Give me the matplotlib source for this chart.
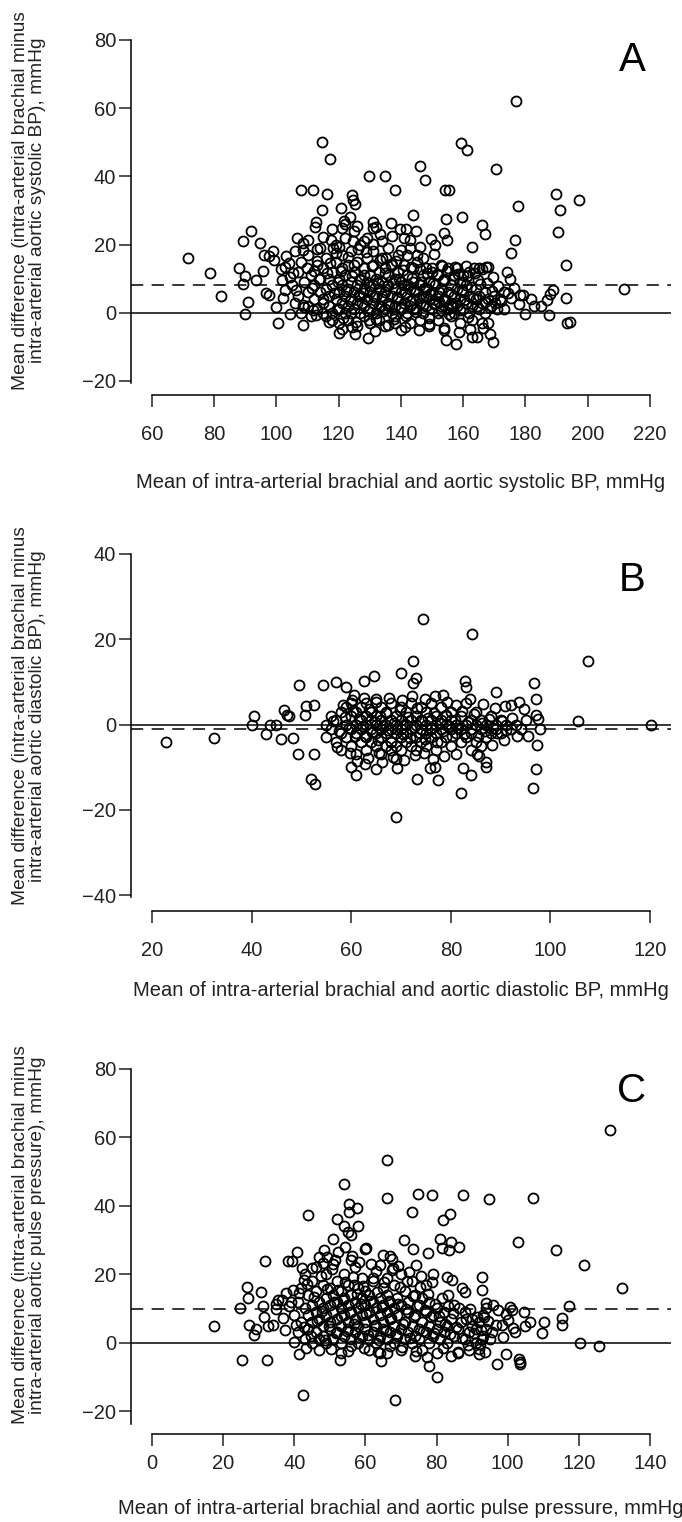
import matplotlib
matplotlib.use("Agg")
import matplotlib.pyplot as plt
import numpy as np

plt.rcParams['font.family'] = ['Liberation Sans', 'DejaVu Sans']

# ---- Panel A: systolic BP (mean, difference) ----
sys_outer_x = [71.7, 78.5, 82.3, 88, 89.4, 91.9, 90, 89.4, 90.8, 90, 94.7, 93.5, 95.6, 96, 98.8, 97.7,
               96.6, 97.7, 100, 100.5, 101.7, 102.8, 102.8, 104, 104.5, 105.3, 105.9, 106.6, 107.9, 108.7,
               108.7, 108.8, 111.8, 112.3, 112.7, 113, 113.2, 114.8, 114.8, 115, 116.2, 117.3, 117.6, 118.1,
               120.6, 121.2, 121.7, 123.7, 124.4, 124.7, 125.1, 120, 124.3, 129.3, 129.9, 135, 131, 138.1,
               136.7, 139.8, 141.7, 143.9, 142.8, 146, 147.7, 146.3, 149.7, 150.5, 154.2, 155.6, 154.4,
               153.7, 154.7, 159.3, 161.3, 159.5, 162.9, 166, 166.9, 170.5, 167.3, 168, 169.6, 154.4, 157.7,
               162.9, 164.6, 168.5, 169.6, 177, 177.5, 176.8, 175.5, 175.2, 174, 173.3, 178.3, 178, 180,
               181.9, 182.7, 185, 187.6, 187, 187.8, 189, 190, 191, 190.6, 193.1, 193.1, 193.5, 194.2,
               197.4, 211.7]
sys_outer_y = [16.0, 11.8, 5.0, 13.1, 21, 24.1, 10.7, 8.5, 3.1, -0.3, 20.5, 9.7, 12.1, 17, 18, 16.5,
               5.9, 5.2, 1.7, -3.0, 9.7, 6.7, 13.4, 14.6, -0.3, 11.7, 18.1, 22, 36, 20.5,
               -3.7, 1.7, 36, 25.1, 26.6, 18.8, 15.3, 30, 50, 22.2, 34.9, 45, 21.2, 19,
               30.8, 24.8, 27, 28.2, 34.6, 33.1, 32, -5.9, -4.2, -7.3, 40, 40, 26.6, 36,
               26.3, 24.6, 24.6, 28.7, 21.2, 43, 38.8, 19.2, 21.6, 17.1, 36, 36, 27.5,
               23.4, 21.4, 49.8, 47.6, 28, 19.2, 25.8, 23.1, 42, 13.4, 13.4, 10.4, -8.1, -9.1,
               -7.1, -7.1, -6.2, -8.6, 62, 31.4, 21.2, 17.6, 10, 12, 1.2, 5.1, 2.6, -0.3,
               4.1, 2.1, 2.1, -0.8, 3.6, 5.4, 6.7, 34.8, 30, 23.7, 13.9, 4.3, -3, -2.6,
               33, 6.9]
sys_core_x = [105, 106, 107, 107, 108, 108, 109, 110, 110, 110, 111, 111, 112, 112, 113, 113, 114, 114, 114,
              115, 115, 115, 116, 116, 116, 117, 117, 117, 118, 118, 118, 118, 119, 119, 119, 120, 120, 120,
              120, 121, 121, 121, 121, 122, 122, 122, 122, 123, 123, 123, 123, 124, 124, 124, 124, 125, 125,
              125, 125, 126, 126, 126, 126, 127, 127, 127, 127, 128, 128, 128, 128, 129, 129, 129, 129, 130,
              130, 130, 130, 131, 131, 131, 131, 132, 132, 132, 132, 133, 133, 133, 133, 134, 134, 134, 134,
              135, 135, 135, 135, 136, 136, 136, 136, 137, 137, 137, 138, 138, 138, 138, 139, 139, 139, 140,
              140, 140, 140, 141, 141, 141, 141, 142, 142, 142, 143, 143, 143, 143, 144, 144, 144, 145, 145,
              145, 146, 146, 146, 147, 147, 147, 147, 148, 148, 148, 149, 149, 149, 150, 150, 150, 151, 151,
              151, 152, 152, 152, 152, 153, 153, 153, 154, 154, 154, 155, 155, 155, 156, 156, 156, 157, 157,
              157, 158, 158, 158, 159, 159, 159, 160, 160, 160, 161, 161, 162, 162, 162, 163, 163, 164, 164,
              165, 165, 165, 166, 166, 167, 167, 168, 168, 169, 170, 171, 172, 173]
sys_core_y = [8, 3, 12, 5, 0, 15, 9, 6, 2, 17, 11, -1, 4, 8, 14, 1, 6, 10, 19,
              3, 0, 13, 7, 16, -1, 2, 10, 5, 12, 0, 8, -2, 15, 4, 20, 6, 1, 10,
              -3, 13, 3, 8, 17, 0, 5, 11, 22, 7, 2, 14, -2, 9, 4, 18, 0, 12, 6,
              1, 24, 3, 8, 15, -4, 10, 5, 0, 20, 7, 13, 2, -1, 4, 9, 16, 22, 1,
              6, 11, -3, 8, 14, 3, 18, 0, 5, 10, 25, 7, 12, 2, -2, 4, 9, 16, 21,
              1, 6, 13, -4, 3, 8, 11, 19, 0, 5, 14, 2, 7, 10, -1, 4, 12, 17, 1,
              6, 9, -5, 3, 8, 14, 22, 0, 5, 11, 2, 7, 19, -3, 4, 9, 13, 1, 6,
              24, 3, 8, -2, 0, 5, 11, 16, 2, 7, 13, 4, 9, -4, 1, 6, 12, 3, 8,
              20, 0, 5, 11, -2, 2, 7, 14, 4, 10, -5, 1, 6, 13, 3, 8, -1, 0, 5,
              11, 2, 7, 13, 4, 9, -3, 1, 6, 11, 3, 8, 0, 5, 12, 2, -2, 4, 7,
              1, 5, 13, 3, -3, 0, 6, 4, -3, 2, 5, 1, 4, 6]
sys_fill_x = [104.5, 106.2, 108.4, 109.7, 111.3, 112.8, 113.6, 114.9, 116.3, 117.1, 118.6, 119.4, 119.8,
              120.7, 121.5, 122.3, 122.9, 123.6, 124.2, 124.8, 125.7, 126.4, 126.9, 127.5, 128.3, 128.8,
              129.4, 130.2, 130.7, 131.4, 131.9, 132.6, 133.2, 133.8, 134.4, 134.9, 135.6, 136.3, 136.8,
              137.5, 138.1, 138.7, 139.3, 139.9, 140.6, 141.2, 141.8, 142.4, 142.9, 143.5, 144.1, 144.8,
              145.3, 145.9, 146.6, 147.2, 147.8, 148.4, 148.9, 149.5, 150.3, 150.8, 151.6, 152.3, 152.8,
              153.5, 154.3, 154.9, 155.6, 156.2, 156.9, 157.7, 158.3, 158.9, 159.6, 160.4, 161.1, 161.7,
              162.4, 163.2, 163.9, 164.5, 165.4, 166.2, 167.1, 167.8, 168.6, 169.4, 170.2, 171.3, 172.1,
              174.3, 175.4, 176.5, 179.2, 157.3, 160.8, 163.5, 153.2, 150.1, 146.3, 143.3, 126.1, 128.1,
              130.9, 133.4, 137.2, 140.2, 142.1, 145.1, 120.2, 117.9, 124.6, 121.9, 125.9, 131.2, 135.3,
              138.4, 119.1, 110.1, 112.1, 108.6, 103.1, 101.5, 99.2, 102.1, 111.7, 116.9, 121.2, 125.3,
              131.6, 135.8, 141.4, 145.7, 149.2, 153.9, 158.6, 162.2, 166.4, 129.8, 137.9, 133.6, 127.7,
              143.9, 148.1, 152.1, 156.5, 160.1, 164.8]
sys_fill_y = [10.5, 6.8, 2.3, 13.2, 7.4, -0.6, 9.8, 4.1, 11.6, 14.7, 5.7, 1.2, 8.9,
              12.3, -1.4, 6.4, 16.3, 3.3, 10.7, 13.9, -2.6, 5.2, 9.6, 2.8, 11.1, 17.8,
              0.4, 7.9, 13.6, 4.6, -1.8, 8.7, 15.4, 4.9, 0.6, 11.8, 7.7, 2.1, 14.3,
              8.8, -2.9, 4.7, 9.9, 1.6, 12.6, 5.9, -0.9, 8.1, 3.4, 10.3, 6.6, 0.2,
              14.8, 4.3, 9.1, 2.2, 7.3, 11.7, -1.6, 5.4, 8.6, 2.6, 11.3, 6.2, 0.7,
              9.4, 3.7, 12.2, -0.4, 5.6, 9.8, 2.9, 11.4, 0.9, 6.8, 3.6, 10.7, -1.2,
              7.6, 4.2, 11.8, 1.9, 8.4, 12.7, 3.2, 8.8, 1.3, 6.4, 2.9, 7.9, 3.3,
              5.8, 4.4, 7.2, 5.3, 13.4, 13.6, 13.2, 13.8, 13.1, 12.8, 13.5, 18.6, 21.1,
              20.3, 23.2, 22.5, 18.4, 16.8, 16.9, 19.4, 24.6, 20.9, 26.1, 25.4, 24.8, 16.1,
              15.3, 17.5, 21.2, 12.3, 18.4, 16.7, 12.9, 15.4, 4.4, 0.9, -2.8, -4.7, -6.2,
              -5.3, -3.7, -4.2, -5.1, -3.4, -4.6, -5.7, -4.9, -4.4, -2.2, -1.7, 1.9, 5.9,
              1.1, 4.8, 3.1, 1.6, 8.9, 9.7]
sys_bias = 8.0

# ---- Panel B: diastolic BP ----
dia_outer_x = [22.8, 32.4, 40, 40.5, 42.9, 43.7, 45, 46, 46.5, 47.1, 47.6, 48.3, 49.4, 49.6, 50.7, 51,
               52.5, 52, 52.8, 52.6, 54.4, 56.9, 59, 60.5, 62.5, 64.6, 59.9, 60.9, 62.8, 65, 65.5, 69,
               69.2, 69.9, 72.5, 73.1, 72.4, 74.5, 73.2, 75.8, 76.9, 77.5, 78.5, 82, 82.4, 82.9, 83.1,
               84, 84.3, 85.3, 87, 87, 89, 90.9, 92, 93.7, 94.6, 93.3, 95.5, 96.7, 97.1, 97.1, 97.6,
               97.9, 97.4, 97.2, 96.6, 105.6, 107.6, 120.2]
dia_outer_y = [-4.1, -3.1, 0, 2.1, -2.2, 0, 0, -3.3, 3.5, 2.2, 2.1, -3.1, -6.8, 9.2, 2.3, 4.3,
               4.5, -12.8, -14, -7, 9.2, 10, 8.9, 7, 10.1, 11.3, -9.9, -11.9, -9.3, -10.4, -6.6, -21.8,
               -10.1, 12.1, 15, 10.9, 9.7, 24.7, -12.8, -10.1, -9.9, -13, 7, -16, -10.1, 10.1, 8.9,
               -11.9, 21.2, -7, -8.8, -9.9, 7.6, 4.3, 4.5, 5.4, 3.7, -2.7, -2.7, 9.7, 6, 2.3, 1.2,
               -1, -4.9, -10.4, -15, 0.9, 15, 0]
dia_core_x = [55, 55, 56, 56, 57, 57, 58, 58, 58, 59, 59, 59, 60, 60, 60, 60, 61, 61, 61, 61, 62, 62, 62, 62,
              63, 63, 63, 63, 63, 64, 64, 64, 64, 65, 65, 65, 65, 65, 66, 66, 66, 66, 66, 67, 67, 67, 67,
              68, 68, 68, 68, 68, 69, 69, 69, 69, 69, 70, 70, 70, 70, 70, 71, 71, 71, 71, 72, 72, 72, 72,
              73, 73, 73, 73, 74, 74, 74, 74, 75, 75, 75, 75, 76, 76, 76, 76, 77, 77, 77, 77, 78, 78, 78,
              78, 79, 79, 79, 80, 80, 80, 80, 81, 81, 81, 82, 82, 82, 83, 83, 83, 84, 84, 84, 85, 85, 85,
              86, 86, 86, 87, 87, 88, 88, 89, 89, 90, 90, 91, 92, 93, 94, 95]
dia_core_y = [0, -3, 2, -1, -4, 1, 3, -2, -6, 0, 4, -3, -1, 2, -5, 5, 0, -2, 3, -7, 1, -4, 4, -1,
              0, -3, 2, -6, 5, -1, 1, -4, 3, 0, -2, 2, -5, 6, -1, 1, -3, 4, -7, 0, -2, 3, -5,
              1, -1, -4, 5, -6, 0, -2, 2, -5, -8, -1, 1, -3, 4, -6, 0, -2, 3, -4, 1, -1, -5, 5,
              0, -3, 2, -6, -1, 1, 4, -4, 0, -2, 3, -5, 1, -1, 5, -3, 0, -2, 2, -6, -1, 1, 4,
              -4, 0, -3, 2, 1, -1, -5, 3, 0, -2, -7, -1, 2, -4, 0, -3, 5, 1, -2, -6, 0, -4, 3,
              -1, 1, -5, 0, -3, 2, -2, 0, -1, 1, -2, 0, -1, 0, -1, 1]
dia_fill_x = [56.4, 57.6, 58.7, 59.5, 60.3, 60.8, 61.6, 62.3, 62.8, 63.5, 64.2, 64.7, 65.3, 65.8, 66.4,
              66.9, 67.4, 67.9, 68.5, 69.2, 69.7, 70.3, 70.8, 71.4, 71.9, 72.6, 73.2, 73.8, 74.3, 74.9,
              75.5, 76.1, 76.7, 77.3, 77.8, 78.4, 79.1, 79.6, 80.3, 80.8, 81.5, 82.2, 82.7, 83.4, 84.1,
              84.7, 85.4, 86.2, 86.9, 87.7, 88.5, 89.3, 90.2, 91.1, 92.3, 66.2, 68.3, 70.6, 72.8, 74.6,
              76.4, 78.7, 63.3, 61.2, 64.9, 67.6, 70.1, 72.2, 74.8, 76.9, 79.3, 81.1, 62.6, 60.1, 58.3,
              83.9, 86.4, 88.2, 90.6, 57.1, 59.8, 85.7, 88.9]
dia_fill_y = [0.8, -1.6, 1.7, -0.7, 3.1, -2.8, 1.4, -0.4, -2.6, 3.6, -1.7, 0.6, -3.6, 1.9, -0.3,
              2.8, -1.3, -4.2, 0.4, -1.1, 3.3, -2.3, 0.2, 1.8, -3.1, -0.6, 3.9, -1.9, 0.9, -3.3,
              1.6, -0.8, 2.6, -4.1, 0.3, -1.4, 2.2, -0.4, -2.8, 1.1, -0.9, 3.2, -2.3, 0.7, -1.1,
              2.4, -2.6, 0.4, -1.6, 1.3, -0.7, -2.1, 0.8, -1.2, 1.6, -8.7, -7.6, -8.3, -7.1, -6.7,
              -8.1, -7.3, -7.9, -8.6, 5.4, 6.2, 5.7, 6.6, 5.9, 6.8, 5.3, 4.6, 6.3, 5.8, 4.6,
              6.1, 4.9, -4.8, -3.7, -5.2, -6.6, -7.4, 3.8]
dia_bias = -1.0

# ---- Panel C: pulse pressure ----
pp_outer_x = [17.3, 24.7, 25.2, 26.8, 27.1, 27.3, 28.8, 29.3, 30.7, 31.3, 31.8, 31.4, 32.3, 32.5, 34, 35,
              35.5, 36.5, 37.7, 38.2, 39, 39.3, 40.5, 39.8, 40.9, 41.4, 42.4, 43.8, 42.2, 42.6, 47, 48.5,
              49.2, 50.9, 51.5, 52, 52.8, 53.9, 54, 54.3, 55, 55.3, 55.5, 56, 56.2, 55.9, 57.7, 57.8,
              56.9, 60.2, 60, 64.4, 66, 66, 64.9, 67, 67.4, 67.6, 68.4, 70.8, 73, 73.3, 74.3, 74.7,
              78.6, 77.5, 77.9, 80.1, 81, 81.9, 83.7, 81.6, 83.4, 84.2, 86.3, 82.9, 84.3, 83.2, 87.5,
              88, 87.2, 92.8, 92.9, 94.8, 97, 99.5, 103, 103.2, 103.5, 103.5, 107.2, 106.3, 110.2,
              109.6, 113.5, 115.3, 115.3, 117.1, 120.3, 121.4, 125.6, 128.9, 132.1, 97.4, 100.7,
              101.3, 102, 98.3, 99.5, 104.7, 105, 94, 95.8, 93.3, 92.9, 92, 93.5, 91.8]
pp_outer_y = [4.9, 10, -5.2, 16.4, 13.2, 5.1, 2.2, 4.1, 14.7, 10.7, 24, 7.5, -5.2, 4.8, 5.1, 9.8,
              12.5, 12.6, 14.4, 24, 12, 24, 5.1, 0.2, 26.5, -3.2, -15.2, 37.2, 21.8, 18.3, 25, 27.2,
              25, 30.3, 24.2, 36.2, -5.2, 46.3, 34.2, 28.1, 32.4, 38.1, 40.4, 31.4, 25.2, 24.2, 39.3, 34,
              16.9, 27.8, 27.4, -5.4, 53.3, 42.2, 25.5, 25.2, 24.5, 21.3, -16.7, 30.1, 38.1, 27.4, 22.7, 43.5,
              43.1, 26.2, -6.7, -10.1, 30.3, 36, 37.5, 27.6, 27.2, 29.3, 28.1, 19.1, 18.3, 13.9, 43.3,
              14.7, 15.9, 19.3, 15.4, 41.9, -6.2, -3.2, 29.4, -4.7, -5.7, -6.2, 42.2, 6.1, 5.9,
              2.8, 27.2, 7.1, 5.1, 10.7, 0, 22.7, -1.1, 62.2, 16.1, 9.5, 10.3,
              9.5, 3.1, 5.1, 8.5, 9, 4.8, 11.5, 11, 7.5, 1.2, -1.8, -2.7, -3.2]
pp_core_x = [40, 41, 41, 42, 42, 43, 43, 43, 44, 44, 44, 45, 45, 45, 45, 46, 46, 46, 46, 47, 47, 47, 47,
             48, 48, 48, 48, 49, 49, 49, 49, 50, 50, 50, 50, 51, 51, 51, 51, 52, 52, 52, 52, 53, 53, 53,
             53, 53, 54, 54, 54, 54, 55, 55, 55, 55, 56, 56, 56, 56, 57, 57, 57, 57, 58, 58, 58, 58, 59,
             59, 59, 59, 60, 60, 60, 60, 61, 61, 61, 61, 62, 62, 62, 62, 63, 63, 63, 63, 64, 64, 64, 64,
             65, 65, 65, 65, 66, 66, 66, 66, 67, 67, 67, 67, 68, 68, 68, 68, 69, 69, 69, 70, 70, 70, 70,
             71, 71, 71, 72, 72, 72, 73, 73, 73, 74, 74, 74, 74, 75, 75, 75, 76, 76, 76, 77, 77, 77, 78,
             78, 78, 79, 79, 79, 80, 80, 80, 81, 81, 82, 82, 83, 83, 84, 84, 85, 85, 86, 86, 87, 88, 88,
             89, 89, 90, 90, 91, 91, 92, 93, 93, 94, 95]
pp_core_y = [8, 3, 12, 6, 16, 1, 10, 20, 4, 14, 8, 0, 11, 18, 6, 3, 9, 15, 22, 1, 7, 12, -2,
             5, 10, 17, 2, 8, 13, 20, 0, 4, 11, 16, 6, 1, 9, 14, 23, 3, 7, 12, 18, 0, 5, 10,
             15, -3, 2, 8, 13, 20, 4, 11, 6, 17, 1, 9, 14, -1, 3, 7, 12, 22, 0, 5, 10, 16, 2,
             8, 13, 19, 4, 11, 6, 15, 1, 9, 14, -2, 3, 7, 12, 18, 0, 5, 10, 21, 2, 8, 13, -3,
             4, 11, 6, 16, 1, 9, 14, 19, 3, 7, 12, -1, 0, 5, 10, 17, 2, 8, 13, 4, 11, 20, -2,
             1, 6, 15, 3, 9, 12, 0, 5, 18, 2, 8, 14, -4, 4, 11, 1, 6, 13, -2, 3, 9, 17, 0,
             5, 12, 2, 8, 20, 4, 10, -3, 1, 6, 3, 9, 0, 5, 7, -4, 2, 11, 4, -3, 6, 1, 9,
             3, -2, 5, 7, 0, 4, 6, 2, 8, 4, 1]
pp_fill_x = [41.3, 42.8, 43.7, 44.6, 45.6, 46.3, 47.4, 47.9, 48.6, 49.3, 49.8, 50.6, 51.2, 51.7, 52.4,
             53.2, 53.7, 54.4, 54.8, 55.6, 56.4, 56.8, 57.5, 58.3, 58.8, 59.4, 60.2, 60.7, 61.4, 62.1,
             62.6, 63.3, 63.8, 64.6, 65.3, 65.8, 66.6, 67.3, 67.8, 68.6, 69.3, 69.7, 70.6, 71.3, 71.8,
             72.6, 73.4, 73.8, 74.6, 75.4, 76.3, 76.8, 77.6, 78.4, 79.2, 79.7, 80.6, 81.4, 82.3, 83.1,
             83.8, 84.6, 85.5, 86.3, 87.2, 88.4, 89.3, 90.4, 91.3, 92.4, 93.8, 94.6, 95.7, 96.8, 98.6,
             100.2, 101.6, 48.2, 52.3, 58.1, 61.6, 64.1, 69.1, 72.3, 75.6, 78.8, 45.1, 43.2, 50.3, 55.2,
             59.6, 63.6, 66.2, 70.3, 74.1, 77.2, 81.7, 85.9, 88.8, 92.2, 36.8, 38.4, 34.8, 37.4, 39.6]
pp_fill_y = [14.6, 4.6, 17.2, 1.9, 13.4, 6.2, 19.6, 9.3, 0.7, 15.8, 4.8, 21.4, 11.8, 2.7, 15.3,
             7.8, 12.4, 17.6, 3.3, 9.1, 19.2, 5.6, 14.2, 1.6, 11.3, 16.7, 8.3, 2.3, 12.1, 18.9,
             5.1, 14.8, 0.8, 10.4, 17.6, 3.7, 12.2, 7.1, 21.8, 2.4, 11.3, 16.2, 5.4, 9.7, 18.1,
             1.3, 13.7, 7.6, 10.7, 16.4, 3.4, 9.6, 14.1, 7.4, 2.9, 11.4, 7.7, 13.2, 5.4, 10.6,
             2.6, 8.6, 4.6, 10.2, 1.4, 6.8, 9.9, 2.7, 7.4, 3.6, 10.1, 6.4, 3.2, 5.3, 1.7,
             6.6, 4.2, 23.3, 26.4, 23.7, 23.1, 22.6, 22.4, 20.8, 19.4, 17.6, 21.7, -1.6, -1.8, -2.4,
             -1.5, -2.7, -3.1, -1.2, -2.3, -4.3, -1.6, -2.6, -0.8, -0.4, 7.3, 10.6, 11.4, 3.6, 15.3]
pp_bias = 9.8

panels = [
    dict(x=sys_outer_x + sys_core_x + sys_fill_x, y=sys_outer_y + sys_core_y + sys_fill_y, bias=sys_bias,
         rect=[0.1916, 0.7405, 0.7922, 0.2398], xlim=(53.16, 226.8), ylim=(-24.1, 82.9),
         xticks=list(range(60, 221, 20)), yticks=list(range(-20, 81, 20)), ybounds=(-20.6, 80),
         letter='A', letter_y=60, xlab_y=482, xpad=13,
         xlabel='Mean of intra-arterial brachial and aortic systolic BP, mmHg',
         ylabel='Mean difference (intra-arterial brachial minus\nintra-arterial aortic systolic BP), mmHg'),
    dict(x=dia_outer_x + dia_core_x + dia_fill_x, y=dia_outer_y + dia_core_y + dia_fill_y, bias=dia_bias,
         rect=[0.1916, 0.4014, 0.7922, 0.2405], xlim=(15.72, 124.2), ylim=(-43.75, 42.1),
         xticks=list(range(20, 121, 20)), yticks=list(range(-40, 41, 20)), ybounds=(-40.5, 40),
         letter='B', letter_y=580, xlab_y=990, xpad=13,
         xlabel='Mean of intra-arterial brachial and aortic diastolic BP, mmHg',
         ylabel='Mean difference (intra-arterial brachial minus\nintra-arterial aortic diastolic BP), mmHg'),
    dict(x=pp_outer_x + pp_core_x + pp_fill_x, y=pp_outer_y + pp_core_y + pp_fill_y, bias=pp_bias,
         rect=[0.1916, 0.0578, 0.7922, 0.2457], xlim=(-5.99, 145.9), ylim=(-26.7, 82.6),
         xticks=list(range(0, 141, 20)), yticks=list(range(-20, 81, 20)), ybounds=(-23.8, 80),
         letter='C', letter_y=1091, xlab_y=1508, xpad=6,
         xlabel='Mean of intra-arterial brachial and aortic pulse pressure, mmHg',
         ylabel='Mean difference (intra-arterial brachial minus\nintra-arterial aortic pulse pressure), mmHg'),
]

W, H = 682, 1522
fig = plt.figure(figsize=(W / 100, H / 100), dpi=100)

for p in panels:
    ax = fig.add_axes(p['rect'])
    ax.plot(p['x'], p['y'], linestyle='none', marker='o', markersize=7.2,
            markerfacecolor='none', markeredgecolor='black', markeredgewidth=1.3)
    ax.axhline(0, color='black', lw=1.1)
    ax.axhline(p['bias'], color='black', lw=1.1, linestyle=(0, (8, 5.5)))
    ax.set_xlim(*p['xlim'])
    ax.set_ylim(*p['ylim'])
    ax.set_xticks(p['xticks'])
    ax.set_yticks(p['yticks'])
    for s in ['top', 'right']:
        ax.spines[s].set_visible(False)
    ax.spines['left'].set_bounds(*p['ybounds'])
    ax.spines['bottom'].set_bounds(p['xticks'][0], p['xticks'][-1])
    for s in ['left', 'bottom']:
        ax.spines[s].set_linewidth(1.1)
    ax.tick_params(axis='both', direction='out', length=8.5, width=1.1, labelsize=14.5, colors='#222222')
    ax.tick_params(axis='x', pad=p['xpad'])
    ax.tick_params(axis='y', pad=2)
    ax.patch.set_visible(False)

    # panel letter
    fig.text(632 / W, 1 - p['letter_y'] / H, p['letter'], fontsize=29, ha='center', va='center')
    # x label, centred on the plot region
    fig.text((130.7 + 671) / 2 / W, 1 - p['xlab_y'] / H, p['xlabel'], fontsize=14.5,
             ha='center', va='center', color='#222222')
    # y label, two lines
    r = p['rect']
    fig.text(29 / W, r[1] + r[3] / 2 + 12 / H, p['ylabel'], fontsize=13.8, rotation=90,
             ha='center', va='center', color='#222222', linespacing=1.05, multialignment='center')

fig.savefig('out.png', dpi=100)
